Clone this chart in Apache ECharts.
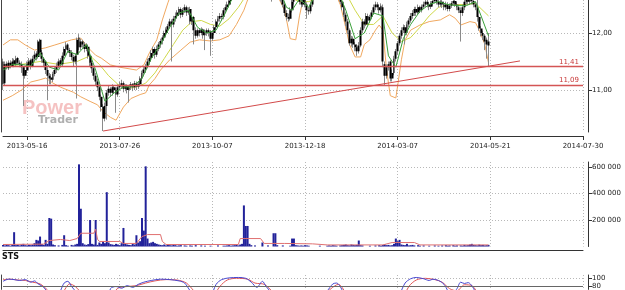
<!DOCTYPE html>
<html><head><meta charset="utf-8">
<script src="https://cdn.jsdelivr.net/npm/echarts@6/dist/echarts.min.js"></script>
<style>html,body{margin:0;padding:0;background:#fff}#c{width:625px;height:290px}</style>
</head><body><div id="c"></div>
<script>
// ---------- axis / tick data ----------
const dayCount = 314;
const tickDays = [13, 63, 113, 163, 213, 263, 313];
const tickLabels = ['2013-05-16','2013-07-26','2013-10-07','2013-12-18','2014-03-07','2014-05-21','2014-07-30'];
const priceTicks = [11, 12];
const volTicks = [200, 400, 600];        // thousands
const stsTicks = [80, 100];
const levelValues = [11.41, 11.09];
const levelLabels = ['11,41', '11,09'];
const trendLine = [[54, 10.28], [279, 11.51]];

// ---------- candles [open, close, low, high] ----------
const candles = [
[11.50,11.10,11.00,11.55],[11.12,11.45,11.08,11.50],[11.46,11.40,11.36,11.50],[11.38,11.48,11.35,11.52],[11.48,11.42,11.38,11.52],
[11.42,11.50,11.40,11.56],[11.52,11.45,11.40,11.55],[11.44,11.55,11.42,11.60],[11.56,11.48,11.44,11.58],[11.48,11.45,11.40,11.52],
[11.45,11.40,11.30,11.50],[11.40,11.25,10.72,11.42],[11.25,11.35,11.20,11.40],[11.34,11.45,11.30,11.50],[11.44,11.50,11.40,11.56],
[11.52,11.42,11.36,11.55],[11.42,11.55,11.40,11.60],[11.55,11.62,11.50,11.68],[11.64,11.58,11.52,11.68],[11.58,11.85,11.55,11.88],
[11.88,11.66,11.62,11.90],[11.66,11.55,11.48,11.70],[11.55,11.48,11.40,11.58],[11.50,11.35,11.28,11.52],[11.35,11.25,10.82,11.40],
[11.25,11.20,11.10,11.30],[11.22,11.18,11.10,11.28],[11.18,11.28,11.14,11.32],[11.28,11.35,11.24,11.40],[11.35,11.42,11.30,11.48],
[11.42,11.50,11.38,11.55],[11.52,11.45,11.40,11.56],[11.45,11.60,11.42,11.66],[11.60,11.72,11.56,11.76],[11.72,11.78,11.66,11.84],
[11.80,11.70,11.65,11.82],[11.70,11.65,11.58,11.74],[11.66,11.58,11.52,11.70],[11.58,11.50,11.42,11.62],[11.50,11.60,11.45,11.64],
[11.62,11.88,10.85,11.92],[11.92,11.75,11.70,11.98],[11.75,11.85,11.70,11.90],[11.85,11.80,11.74,11.88],[11.80,11.72,11.66,11.84],
[11.72,11.78,11.68,11.82],[11.76,11.60,11.55,11.80],[11.60,11.48,11.42,11.64],[11.48,11.38,11.30,11.52],[11.38,11.25,11.18,11.42],
[11.25,11.15,11.08,11.30],[11.15,11.05,10.98,11.20],[11.05,10.88,10.82,11.08],[10.88,10.70,10.62,10.92],[10.70,10.50,10.28,10.75],
[10.50,10.72,10.45,10.78],[10.72,10.95,10.48,11.00],[10.95,11.02,10.90,11.08],[11.02,10.95,10.88,11.05],[10.95,11.05,10.90,11.10],
[11.05,11.00,10.94,11.08],[11.00,10.92,10.60,11.04],[10.92,11.05,10.88,11.10],[11.05,11.08,11.00,11.14],[11.08,11.12,11.02,11.18],
[11.12,11.02,10.96,11.15],[11.02,11.06,10.98,11.10],[11.06,11.00,10.94,11.10],[11.00,11.05,10.78,11.08],[11.05,11.10,11.00,11.14],
[11.10,11.05,10.98,11.12],[11.05,11.12,11.00,11.16],[11.12,11.06,11.00,11.15],[11.06,11.10,11.02,11.14],[11.10,11.20,11.06,11.24],
[11.20,11.30,11.16,11.34],[11.30,11.36,11.24,11.40],[11.36,11.42,11.30,11.46],[11.42,11.50,11.38,11.55],[11.50,11.56,11.44,11.60],
[11.56,11.65,11.50,11.70],[11.65,11.72,11.60,11.76],[11.72,11.62,11.55,11.75],[11.62,11.72,11.58,11.78],[11.72,11.80,11.68,11.84],
[11.80,11.86,11.74,11.90],[11.86,11.92,11.80,11.96],[11.92,12.00,11.88,12.04],[12.00,12.06,11.95,12.10],[12.06,12.12,12.00,12.16],
[12.12,12.20,12.08,12.25],[12.20,12.15,11.50,12.24],[12.15,12.25,12.10,12.30],[12.25,12.30,12.20,12.36],[12.30,12.36,12.26,12.40],
[12.36,12.42,12.30,12.46],[12.42,12.32,12.26,12.45],[12.32,12.40,12.28,12.44],[12.40,12.45,12.35,12.50],[12.45,12.36,12.30,12.48],
[12.36,12.40,12.32,12.45],[12.42,12.20,12.15,12.46],[12.20,12.28,12.14,12.32],[12.28,12.05,11.80,12.30],[12.05,11.95,11.90,12.10],
[11.95,12.05,11.92,12.08],[12.05,12.00,11.94,12.08],[12.00,12.06,11.96,12.10],[12.06,11.96,11.90,12.08],[11.96,12.00,11.70,12.04],
[12.00,12.05,11.95,12.08],[12.05,12.00,11.94,12.08],[12.02,11.90,11.60,12.05],[11.90,12.00,11.86,12.04],[12.00,12.10,11.96,12.14],
[12.10,12.20,12.06,12.24],[12.20,12.25,12.15,12.30],[12.25,12.30,12.20,12.35],[12.30,12.28,12.22,12.34],[12.28,12.40,12.24,12.44],
[12.40,12.45,12.35,12.50],[12.45,12.50,12.40,12.55],[12.50,12.56,12.45,12.62],[12.56,12.62,12.50,12.68],[12.62,12.75,12.58,12.80],
[12.75,12.80,12.68,12.85],[12.80,12.90,12.75,12.95],[12.90,12.95,12.85,13.00],[12.95,12.85,12.80,13.00],[12.85,12.90,12.80,12.95],
[12.90,13.00,12.86,13.05],[13.00,12.95,12.90,13.05],[12.95,12.90,12.85,13.00],[12.90,12.85,12.80,12.95],[12.85,12.90,12.80,12.95],
[12.90,12.95,12.85,13.00],[12.95,12.90,12.84,13.00],[12.90,12.85,12.78,12.94],[12.85,12.80,12.72,12.90],[12.80,12.85,12.75,12.90],
[12.85,12.90,12.80,12.95],[12.90,12.85,12.78,12.95],[12.85,12.80,12.74,12.90],[12.80,12.75,12.68,12.85],[12.75,12.70,12.64,12.80],
[12.70,12.68,12.55,12.75],[12.68,12.72,12.62,12.78],[12.72,12.75,12.66,12.80],[12.75,12.70,12.64,12.80],[12.70,12.65,12.60,12.75],
[12.65,12.60,12.55,12.70],[12.60,12.50,12.45,12.64],[12.50,12.35,12.30,12.55],[12.35,12.28,12.22,12.40],[12.28,12.25,12.20,12.34],
[12.25,12.40,12.22,12.45],[12.40,12.55,12.36,12.60],[12.55,12.68,12.50,12.72],[12.68,12.72,12.62,12.78],[12.72,12.65,12.60,12.76],
[12.65,12.55,12.50,12.70],[12.55,12.50,12.45,12.60],[12.50,12.62,12.46,12.66],[12.62,12.50,12.45,12.65],[12.50,12.40,12.25,12.54],
[12.40,12.38,12.32,12.45],[12.38,12.50,12.34,12.55],[12.50,12.62,12.46,12.66],[12.62,12.72,12.58,12.78],[12.72,12.80,12.68,12.85],
[12.80,12.85,12.75,12.90],[12.85,12.90,12.80,12.95],[12.90,12.95,12.85,13.00],[12.95,12.90,12.85,13.00],[12.90,12.85,12.80,12.95],
[12.85,12.90,12.80,12.95],[12.90,12.80,12.75,12.95],[12.80,12.85,12.75,12.90],[12.85,12.90,12.80,12.95],[12.90,12.80,12.74,12.94],
[12.80,12.75,12.68,12.85],[12.75,12.70,12.62,12.80],[12.70,12.55,12.50,12.74],[12.55,12.45,12.40,12.60],[12.45,12.32,12.28,12.50],
[12.32,12.20,12.12,12.36],[12.20,12.05,11.98,12.25],[12.05,11.82,11.78,12.08],[11.82,11.90,11.76,11.95],[11.90,11.80,11.74,11.94],
[11.80,11.75,11.68,11.84],[11.75,11.68,11.60,11.80],[11.68,11.78,11.64,11.84],[11.78,12.05,11.75,12.10],[12.05,12.20,12.00,12.25],
[12.20,12.15,12.08,12.24],[12.15,12.30,12.12,12.35],[12.30,12.22,12.16,12.34],[12.22,12.28,12.18,12.32],[12.28,12.36,12.24,12.40],
[12.36,12.45,12.32,12.50],[12.45,12.50,12.40,12.55],[12.50,12.45,12.40,12.54],[12.45,12.40,12.34,12.50],[12.40,12.48,12.36,12.52],
[12.45,11.50,11.40,12.50],[11.45,11.25,11.09,11.50],[11.25,11.40,11.20,11.45],[11.40,11.45,11.34,11.50],[11.50,11.20,11.15,11.52],
[11.20,11.30,11.15,11.36],[11.30,11.55,11.26,11.60],[11.55,11.68,11.50,11.72],[11.68,11.82,11.62,11.86],[11.82,11.95,11.78,12.00],
[11.95,12.05,11.90,12.10],[12.05,12.10,12.00,12.15],[12.10,12.00,11.80,12.14],[12.00,12.15,11.96,12.20],[12.15,12.22,12.10,12.26],
[12.22,12.30,12.18,12.35],[12.30,12.35,12.25,12.40],[12.35,12.42,12.30,12.46],[12.42,12.36,12.30,12.46],[12.36,12.45,12.32,12.50],
[12.45,12.40,12.35,12.48],[12.40,12.46,12.36,12.50],[12.46,12.50,12.42,12.55],[12.50,12.55,12.46,12.60],[12.55,12.50,12.45,12.60],
[12.50,12.46,12.40,12.54],[12.46,12.52,12.42,12.56],[12.52,12.56,12.48,12.60],[12.56,12.60,12.52,12.65],[12.60,12.55,12.50,12.64],
[12.55,12.50,12.45,12.60],[12.50,12.55,12.46,12.60],[12.55,12.50,12.44,12.60],[12.50,12.45,12.40,12.55],[12.45,12.50,12.40,12.55],
[12.50,12.42,12.38,12.54],[12.42,12.48,12.38,12.52],[12.48,12.52,12.44,12.56],[12.52,12.56,12.48,12.60],[12.56,12.50,12.46,12.60],
[12.50,12.45,12.40,12.54],[12.45,12.40,12.35,12.50],[12.40,12.35,11.85,12.45],[12.35,12.45,12.30,12.50],[12.45,12.55,12.40,12.60],
[12.55,12.60,12.50,12.66],[12.60,12.55,12.50,12.65],[12.55,12.62,12.50,12.68],[12.62,12.56,12.50,12.66],[12.56,12.50,12.45,12.60],
[12.50,12.45,12.40,12.55],[12.45,12.28,12.20,12.60],[12.28,12.08,12.04,12.30],[12.08,12.00,11.94,12.12],[12.00,11.95,11.88,12.04],
[11.95,11.85,11.70,11.98],[11.88,11.80,11.55,11.92],[11.85,11.78,11.41,12.00]
];

// ---------- volume (thousands) ----------
const volK = [
12,8,15,10,6,14,108,10,12,8, 15,20,10,8,12,10,14,25,50,45, 75,18,12,50,20,215,210,15,10,0,
8,0,12,85,10,6,0,12,8,15, 20,620,285,25,15,12,18,200,20,15, 200,12,30,20,40,25,410,30,18,15,
12,20,15,10,25,140,20,15,12,10, 20,15,85,30,40,215,120,605,60,25, 30,35,25,20,15,12,10,15,8,12,
10,8,12,10,6,8,10,0,8,6, 0,8,6,0,10,0,0,8,0,6, 0,0,6,0,0,0,8,0,0,6,
6,8,10,6,8,10,12,8,15,20, 310,155,155,20,10,0,8,0,0,0, 30,0,0,8,0,0,100,100,10,0,
0,8,0,0,0,6,60,60,10,8, 6,8,6,10,8,6,0,0,0,0, 0,6,0,0,0,6,8,6,10,8,
6,0,8,10,12,15,10,8,15,12, 10,12,45,10,8,0,0,0,6,0, 0,8,0,10,6,12,15,10,12,8,
10,20,60,40,50,15,12,10,20,8, 10,12,8,0,10,6,0,8,0,0, 6,0,0,8,0,6,0,8,0,10,
6,8,0,10,6,8,0,8,6,12, 8,10,15,20,12,10,8,14,10,12, 8,10,12
];

// ---------- indicator lines: [day, value] ----------
const bbUpper = [[0,11.79],[4,11.88],[8,11.88],[12,11.79],[17,11.70],[23,11.74],[28,11.79],[33,11.84],[37,11.88],[42,11.91],[46,11.74],[50,11.61],[53,11.56],[58,11.44],[63,11.40],[72,11.35],[76,11.44],[79,11.65],[83,11.88],[86,12.23],[89,12.53],[92,12.80],[100,13.10],[262,13.10]];
const bbLower = [[0,10.82],[5,10.90],[10,11.00],[15,11.14],[20,11.18],[23,11.21],[27,11.12],[31,11.05],[38,10.96],[42,10.88],[47,10.80],[51,10.74],[54,10.62],[58,10.52],[61,10.47],[65,10.70],[69,10.85],[74,10.92],[77,10.95],[79,11.09],[82,11.20],[85,11.35],[90,11.53],[96,11.70],[101,11.84],[106,11.88],[112,11.86],[117,11.88],[122,11.95],[126,12.15],[130,12.40],[132,12.58],[140,12.70],[148,12.66],[152,12.40],[155,11.90],[158,11.88],[160,12.30],[162,12.60],[166,12.75],[175,12.80],[180,12.65],[182,12.50],[184,12.23],[187,11.80],[190,11.58],[193,11.58],[195,11.80],[198,11.88],[201,12.05],[203,12.14],[205,12.05],[207,11.35],[209,10.90],[212,10.86],[213,11.08],[215,11.53],[217,11.88],[220,12.05],[225,12.14],[230,12.20],[236,12.23],[241,12.32],[244,12.26],[247,12.14],[252,12.20],[255,12.18],[257,12.05],[260,11.80],[262,11.48]];
const maShort = [[0,11.35],[5,11.45],[10,11.45],[15,11.42],[20,11.65],[25,11.40],[30,11.35],[35,11.68],[40,11.62],[45,11.80],[50,11.35],[55,10.80],[60,10.95],[65,11.05],[70,11.06],[75,11.20],[80,11.55],[85,11.80],[90,12.10],[95,12.35],[100,12.40],[105,12.10],[110,12.00],[115,12.05],[120,12.35],[125,12.70],[130,12.90],[150,12.70],[153,12.45],[156,12.40],[160,12.60],[165,12.45],[170,12.75],[180,12.80],[185,12.40],[190,11.90],[195,12.00],[200,12.35],[205,12.30],[208,11.60],[212,11.40],[216,11.90],[220,12.15],[225,12.38],[230,12.50],[235,12.55],[240,12.50],[245,12.48],[250,12.48],[255,12.55],[258,12.30],[262,11.95]];
const maLong = [[0,11.40],[10,11.45],[20,11.50],[30,11.45],[40,11.50],[47,11.60],[52,11.45],[57,11.25],[62,11.10],[67,11.02],[72,11.05],[77,11.12],[82,11.30],[87,11.55],[92,11.80],[97,12.05],[102,12.20],[107,12.22],[112,12.15],[117,12.12],[122,12.25],[127,12.45],[132,12.70],[150,12.80],[155,12.62],[160,12.55],[165,12.55],[170,12.62],[180,12.80],[185,12.70],[190,12.40],[195,12.15],[200,12.15],[205,12.30],[210,12.00],[215,11.85],[220,11.92],[225,12.10],[230,12.30],[235,12.45],[240,12.50],[250,12.50],[255,12.52],[262,12.30]];
const volAvgK = [[0,15],[22,18],[25,45],[31,53],[36,45],[40,60],[42,100],[49,100],[50,130],[51,55],[52,38],[63,38],[65,23],[72,23],[75,75],[78,90],[85,90],[86,38],[88,15],[127,15],[128,60],[139,60],[141,23],[152,23],[167,20],[175,12],[205,12],[210,30],[222,30],[225,12],[262,12]];
const stsK = [[0,92],[3,97],[6,96],[9,94],[12,96],[15,90],[17,93],[19,86],[22,78],[25,60],[28,45],[31,70],[33,88],[35,92],[37,80],[40,65],[43,50],[47,40],[52,20],[56,40],[58,75],[61,80],[64,76],[67,82],[70,78],[73,85],[76,90],[80,94],[85,97],[90,96],[95,93],[98,88],[101,70],[104,55],[108,40],[112,55],[115,85],[118,96],[122,100],[127,101],[131,99],[134,90],[137,78],[140,92],[142,80],[146,60],[150,40],[155,30],[160,45],[165,40],[170,50],[175,70],[178,86],[180,88],[183,72],[187,30],[192,20],[196,50],[200,60],[205,30],[210,20],[214,60],[217,88],[220,98],[223,101],[227,98],[230,94],[232,97],[235,94],[238,85],[242,60],[245,75],[247,90],[249,87],[251,89],[254,75],[258,40],[262,15]];
const stsD = [[0,96],[4,97],[8,95],[12,94],[16,90],[20,86],[24,72],[28,55],[32,65],[36,86],[39,80],[43,62],[48,45],[53,28],[58,55],[62,76],[67,80],[72,82],[77,88],[82,93],[88,96],[94,95],[99,88],[103,70],[108,50],[113,55],[117,80],[121,95],[126,99],[132,97],[136,88],[141,85],[145,70],[150,50],[156,35],[165,42],[172,55],[177,75],[181,85],[185,65],[190,35],[195,35],[200,55],[205,42],[210,25],[215,45],[219,80],[223,95],[228,99],[233,96],[237,90],[241,75],[245,70],[249,84],[253,82],[257,60],[262,35]];

// ---------- chart ----------
const days = Array.from({length: dayCount}, (_, i) => String(i));
const showTick = (i) => tickDays.indexOf(i) >= 0;
const FONT = 'DejaVu Sans';
const grid = { left: 3, width: 580 };
const dotted = { color: '#b8b8b8', type: [1, 2], width: 1 };

function xAx(gi, withLine, withLabel) {
  return {
    type: 'category', gridIndex: gi, data: days, boundaryGap: false, offset: 4,
    axisLine: { show: withLine, onZero: false, lineStyle: { color: '#333', width: 1 } },
    axisTick: { show: withLabel, interval: showTick, length: 4, lineStyle: { color: '#333' } },
    axisLabel: { show: withLabel, interval: showTick, fontSize: 7, fontFamily: FONT, color: '#222', margin: 7,
      formatter: (v, idx) => tickLabels[tickDays.indexOf(idx)] || '' },
    splitLine: { show: true, interval: showTick, lineStyle: dotted }
  };
}
function yAx(gi, min, max, ticks, fmt) {
  return {
    type: 'value', gridIndex: gi, position: 'right', offset: 5, min: min, max: max, scale: true,
    axisLine: { show: true, lineStyle: { color: '#333' } },
    axisTick: { show: true, length: 4, customValues: ticks, lineStyle: { color: '#333' } },
    axisLabel: { customValues: ticks, fontSize: 7, fontFamily: FONT, color: '#222', margin: 4, hideOverlap: false,
      showMinLabel: true, showMaxLabel: true, formatter: fmt },
    splitLine: { show: true, lineStyle: dotted }
  };
}
function leftBorder(gi, min, max) {
  return { type: 'value', gridIndex: gi, position: 'left', offset: 2, min: min, max: max,
    axisLine: { show: true, lineStyle: { color: '#444' } }, axisTick: { show: false },
    axisLabel: { show: false }, splitLine: { show: false } };
}

const chart = echarts.init(document.getElementById('c'), null, { renderer: 'canvas' });
chart.setOption({
  animation: false,
  backgroundColor: '#fff',
  grid: [
    { left: grid.left, width: grid.width, top: 0, height: 132 },
    { left: grid.left, width: grid.width, top: 162, height: 84.5 },
    { left: grid.left, width: grid.width, top: 275, height: 15 }
  ],
  xAxis: [xAx(0, true, true), xAx(1, true, false), xAx(2, false, false)],
  yAxis: [
    yAx(0, 10.263, 12.579, priceTicks, v => v.toFixed(2).replace('.', ',')),
    yAx(1, 0, 637.7, volTicks, v => v + ' 000'),
    yAx(2, 73.3, 106.7, stsTicks, v => String(v)),
    leftBorder(0, 0, 1),
    leftBorder(2, 0, 1)
  ],
  graphic: [
    { type: 'text', left: 22, top: 98, z: 0, style: { text: 'Power', font: 'bold 20px "Liberation Sans"', fill: 'rgba(232,120,120,0.45)' } },
    { type: 'text', left: 38, top: 115, z: 0, style: { text: 'Trader', font: 'bold 11px "DejaVu Sans"', fill: 'rgba(110,110,110,0.55)' } },
    { type: 'text', left: 2, top: 253, style: { text: 'STS', font: 'bold 8px "DejaVu Sans"', fill: '#111' } }
  ],
  series: [
    { type: 'line', xAxisIndex: 0, yAxisIndex: 0, data: bbUpper, symbol: 'none', lineStyle: { color: '#f0a860', width: 1 }, z: 1 },
    { type: 'line', xAxisIndex: 0, yAxisIndex: 0, data: bbLower, symbol: 'none', lineStyle: { color: '#f0a860', width: 1 }, z: 1 },
    { type: 'line', xAxisIndex: 0, yAxisIndex: 0, data: maLong, symbol: 'none', lineStyle: { color: '#cfd84a', width: 1 }, z: 1 },
    { type: 'candlestick', xAxisIndex: 0, yAxisIndex: 0, data: candles, barWidth: 1, z: 2,
      itemStyle: { color: '#8a8a8a', color0: '#8a8a8a', borderColor: '#8a8a8a', borderColor0: '#8a8a8a', borderWidth: 1 } },
    { type: 'candlestick', xAxisIndex: 0, yAxisIndex: 0, data: candles, barWidth: 2.4, z: 3,
      itemStyle: { color: '#000', color0: '#000', borderColor: '#000', borderColor0: '#000', borderWidth: 0 } },
    { type: 'line', xAxisIndex: 0, yAxisIndex: 0, data: maShort, symbol: 'none', lineStyle: { color: '#3aa03a', width: 1 }, z: 4 },
    { type: 'line', xAxisIndex: 0, yAxisIndex: 0, data: trendLine, symbol: 'none', lineStyle: { color: '#d24a4a', width: 1 }, z: 5,
      markLine: { symbol: 'none', silent: true,
        lineStyle: { color: '#d45555', width: 1.3, type: 'solid' },
        label: { position: 'insideEndTop', color: '#c83838', fontSize: 7, fontFamily: FONT, distance: [4, 1],
          formatter: p => levelLabels[levelValues.indexOf(p.value)] },
        data: levelValues.map(v => ({ yAxis: v })) } },
    { type: 'bar', xAxisIndex: 1, yAxisIndex: 1, data: volK, barWidth: 2, itemStyle: { color: '#22229a' } },
    { type: 'line', xAxisIndex: 1, yAxisIndex: 1, data: volAvgK, symbol: 'none', lineStyle: { color: '#e07070', width: 1 } },
    { type: 'line', xAxisIndex: 2, yAxisIndex: 2, data: stsD, symbol: 'none', smooth: 0.3, lineStyle: { color: '#e05a5a', width: 1 },
      markLine: { symbol: 'none', silent: true, label: { show: false }, lineStyle: { color: '#666', width: 1, type: 'solid' }, data: [{ yAxis: 80 }] } },
    { type: 'line', xAxisIndex: 2, yAxisIndex: 2, data: stsK, symbol: 'none', smooth: 0.3, lineStyle: { color: '#4848d0', width: 1 } }
  ]
});
</script></body></html>
